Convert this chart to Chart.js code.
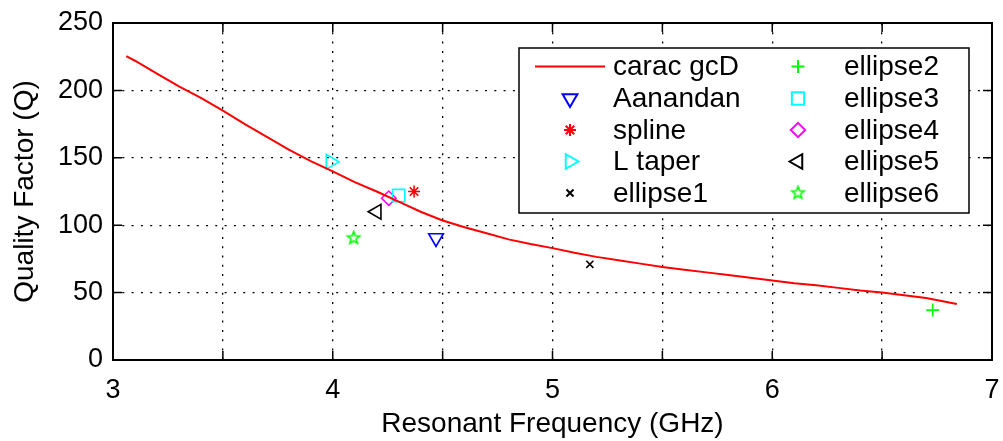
<!DOCTYPE html>
<html>
<head>
<meta charset="utf-8">
<script src="https://cdn.jsdelivr.net/npm/chart.js@4/dist/chart.umd.min.js"></script>
<style>
  html, body { margin: 0; padding: 0; background: #fff; }
  #wrap { width: 1003px; height: 441px; }
</style>
</head>
<body>
<div id="wrap"><canvas id="qChart" width="1003" height="441"></canvas></div>
<script>
// fitted curve "carac gcD"
const curveFreq = [3.06, 3.1, 3.2, 3.3, 3.4, 3.5, 3.6, 3.7, 3.8, 3.9, 4.0, 4.1, 4.2, 4.3, 4.4,
    4.5, 4.6, 4.7, 4.8, 4.9, 5.0, 5.1, 5.2, 5.3, 5.4, 5.5, 5.6, 5.7, 5.8, 5.9, 6.0, 6.1, 6.2,
    6.3, 6.4, 6.5, 6.6, 6.7, 6.84];
const curveQ = [225.5, 222, 212.5, 203, 194.5, 185, 175, 165.5, 156, 147.5, 140, 132, 125, 117.5, 110,
    103.5, 98.5, 94, 89.5, 86, 83, 79.5, 76.5, 74, 71.5, 69, 67, 65, 63, 61, 59, 57, 55.5,
    53.5, 51.5, 50, 48, 46, 41.5];

// single measured antennas
const markerNames = ['Aanandan', 'spline', 'L taper', 'ellipse1', 'ellipse2',
    'ellipse3', 'ellipse4', 'ellipse5', 'ellipse6'];
const markerFreq = [4.47, 4.37, 3.99, 5.17, 6.73, 4.30, 4.255, 4.20, 4.095];
const markerQ = [90.5, 125, 147, 71, 37, 122, 120, 110, 90.5];

const xTicks = [3, 4, 5, 6, 7];
const yTicks = [0, 50, 100, 150, 200, 250];

function pentagram(color, r) {
    const c = document.createElement('canvas');
    const s = Math.ceil(r * 2 + 4);
    c.width = s; c.height = s;
    const g = c.getContext('2d');
    g.beginPath();
    for (let i = 0; i < 10; i++) {
        const a = -Math.PI / 2 + i * Math.PI / 5;
        const rr = i % 2 === 0 ? r : r * 0.42;
        g.lineTo(s / 2 + rr * Math.cos(a), s / 2 + rr * Math.sin(a));
    }
    g.closePath();
    g.strokeStyle = color;
    g.lineWidth = 1.6;
    g.stroke();
    return c;
}

const markerStyle = [
    { color: '#0000ff', style: 'triangle', rotation: 180, radius: 8.5 },
    { color: '#ff0000', style: 'star', rotation: 0, radius: 6 },
    { color: '#00ffff', style: 'triangle', rotation: 90, radius: 8.5 },
    { color: '#000000', style: 'crossRot', rotation: 0, radius: 5 },
    { color: '#00ff00', style: 'cross', rotation: 0, radius: 6.5 },
    { color: '#00ffff', style: 'rect', rotation: 0, radius: 8.7 },
    { color: '#ff00ff', style: 'rectRot', rotation: 0, radius: 7.2 },
    { color: '#000000', style: 'triangle', rotation: 270, radius: 8.5 },
    { color: '#00ff00', style: pentagram('#00ff00', 6.5), rotation: 0, radius: 7 }
];

const datasets = [{
    label: 'carac gcD',
    data: curveFreq.map((f, i) => ({ x: f, y: curveQ[i] })),
    showLine: true,
    borderColor: '#ff0000',
    borderWidth: 2,
    pointRadius: 0,
    tension: 0
}];

markerNames.forEach((name, i) => {
    const m = markerStyle[i];
    datasets.push({
        label: name,
        data: [{ x: markerFreq[i], y: markerQ[i] }],
        pointStyle: m.style,
        rotation: m.rotation,
        pointRadius: m.radius,
        pointBorderWidth: 1.6,
        borderColor: m.color,
        backgroundColor: 'rgba(0,0,0,0)'
    });
});

const FONT = 'Arial, "Liberation Sans", Helvetica, sans-serif';

function edgeColor(min, max) {
    return (c) => (c.tick && (c.tick.value === min || c.tick.value === max)) ? 'rgba(0,0,0,0)' : '#000';
}

// box, inward ticks and legend in MATLAB style
const matlabFrame = {
    id: 'matlabFrame',
    afterDraw(chart) {
        const ctx = chart.ctx;
        const a = chart.chartArea;
        const xs = chart.scales.x, ys = chart.scales.y;
        ctx.save();
        ctx.strokeStyle = '#000';
        ctx.lineWidth = 1.5;
        ctx.beginPath();
        for (let v = 3; v <= 7.001; v += 0.5) {
            const px = xs.getPixelForValue(v);
            ctx.moveTo(px, a.bottom); ctx.lineTo(px, a.bottom - 9);
            ctx.moveTo(px, a.top); ctx.lineTo(px, a.top + 9);
        }
        yTicks.forEach(v => {
            const py = ys.getPixelForValue(v);
            ctx.moveTo(a.left, py); ctx.lineTo(a.left + 9, py);
            ctx.moveTo(a.right, py); ctx.lineTo(a.right - 9, py);
        });
        ctx.stroke();
        ctx.lineWidth = 2;
        ctx.strokeRect(a.left, a.top, a.right - a.left, a.bottom - a.top);

        // legend
        const lx = 519, ly = 48, lw = 450, lh = 165;
        ctx.fillStyle = '#fff';
        ctx.fillRect(lx, ly, lw, lh);
        ctx.lineWidth = 1.5;
        ctx.strokeRect(lx, ly, lw, lh);
        ctx.font = '28px ' + FONT;
        ctx.textBaseline = 'middle';
        const rows = [66.5, 98.5, 130, 161.5, 193];
        chart.data.datasets.forEach((ds, i) => {
            const col = i < 5 ? 0 : 1;
            const y = rows[i % 5];
            const mx = col === 0 ? 570 : 798;
            const tx = col === 0 ? 613 : 844;
            if (i === 0) {
                ctx.strokeStyle = '#ff0000';
                ctx.lineWidth = 2;
                ctx.beginPath();
                ctx.moveTo(535, y); ctx.lineTo(605, y);
                ctx.stroke();
            } else {
                ctx.strokeStyle = ds.borderColor;
                ctx.fillStyle = 'rgba(0,0,0,0)';
                Chart.helpers.drawPoint(ctx, {
                    pointStyle: ds.pointStyle,
                    radius: ds.pointRadius,
                    rotation: ds.rotation,
                    borderWidth: 1.6
                }, mx, y);
            }
            ctx.fillStyle = '#000';
            ctx.fillText(ds.label, tx, y + 1);
        });
        ctx.restore();
    }
};

new Chart(document.getElementById('qChart'), {
    type: 'scatter',
    data: { datasets: datasets },
    options: {
        responsive: false,
        animation: false,
        devicePixelRatio: 1,
        events: [],
        layout: { padding: { top: 23, right: 11, left: 0, bottom: 0 } },
        plugins: {
            legend: { display: false },
            tooltip: { enabled: false }
        },
        scales: {
            x: {
                type: 'linear',
                min: 3,
                max: 7,
                afterFit: (s) => { s.height = 81; s.paddingRight = 0; s.paddingLeft = 0; },
                ticks: {
                    stepSize: 0.5,
                    autoSkip: false,
                    maxRotation: 0,
                    padding: 14,
                    color: '#000',
                    font: { family: FONT, size: 27 },
                    callback: (v) => xTicks.includes(v) ? String(v) : ''
                },
                grid: { color: edgeColor(3, 7), lineWidth: 1.3, drawTicks: false },
                border: { display: false, dash: [2, 7.3] },
                title: {
                    display: true,
                    text: 'Resonant Frequency (GHz)',
                    color: '#000',
                    font: { family: FONT, size: 28, lineHeight: 1.2 },
                    padding: { top: 0, bottom: 0 }
                }
            },
            y: {
                min: 0,
                max: 250,
                afterFit: (s) => { s.width = 113; s.paddingTop = 0; s.paddingBottom = 0; },
                ticks: {
                    stepSize: 50,
                    padding: 10,
                    color: '#000',
                    font: { family: FONT, size: 27 },
                    callback: (v) => yTicks.includes(v) ? String(v) : ''
                },
                grid: { color: edgeColor(0, 250), lineWidth: 1.3, drawTicks: false },
                border: { display: false, dash: [2, 7.3] },
                title: {
                    display: true,
                    text: 'Quality Factor (Q)',
                    color: '#000',
                    font: { family: FONT, size: 28, lineHeight: 1.2 },
                    padding: { top: 8, bottom: 0 }
                }
            }
        }
    },
    plugins: [matlabFrame]
});
</script>
</body>
</html>
